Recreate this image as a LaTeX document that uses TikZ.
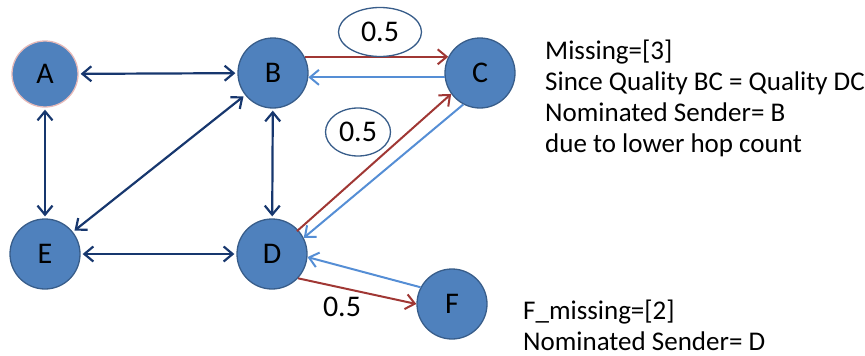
\documentclass[tikz,border=0pt]{standalone}
\usepackage{fontspec}
\setmainfont{Carlito}
\usetikzlibrary{arrows.meta,shapes.geometric}
\definecolor{nodefill}{HTML}{4F81BD}
\definecolor{nodeborder}{HTML}{385D8A}
\definecolor{pinkborder}{HTML}{E6B9B8}
\definecolor{navy}{RGB}{23,55,110}
\definecolor{redline}{RGB}{160,55,52}
\definecolor{lightline}{HTML}{558ED5}
\tikzset{
  vertex/.style={circle, fill=nodefill, draw=nodeborder, line width=1.3pt, minimum size=70pt, inner sep=0pt, font=\fontsize{30}{32}\selectfont, text=black},
  navyarrow/.style={navy, line width=2.2pt, {Straight Barb[length=9pt,width=15pt]}-{Straight Barb[length=9pt,width=15pt]}, shorten <=2pt, shorten >=2pt},
  redarrow/.style={redline, line width=2pt, -{Straight Barb[length=9pt,width=15pt]}},
  bluearrow/.style={lightline, line width=2pt, -{Straight Barb[length=9pt,width=15pt]}},
  weightlabel/.style={ellipse, draw=nodeborder, fill=white, line width=1.3pt, inner sep=0pt, font=\fontsize{30}{32}\selectfont},
  plainlabel/.style={inner sep=0pt, font=\fontsize{30}{32}\selectfont},
  note/.style={inner sep=0pt, align=left, anchor=base west, font=\fontsize{27}{31}\selectfont}
}
\begin{document}
\begin{tikzpicture}[x=1pt,y=-1pt]
\useasboundingbox (0,0) rectangle (865,356);
% nodes
\node[vertex, draw=pinkborder, minimum size=66pt] (A) at (45,74) {A};
\node[vertex] (B) at (273,73) {B};
\node[vertex] (C) at (480,73) {C};
\node[vertex] (E) at (45,254) {E};
\node[vertex] (D) at (272,254) {D};
\node[vertex] (F) at (452,304) {F};
% navy bidirectional links
\draw[navyarrow] (A) -- (B);
\draw[navyarrow] (A) -- (E);
\draw[navyarrow] (E) -- (B);
\draw[navyarrow] (B) -- (D);
\draw[navyarrow] (E) -- (D);
% red and blue links
\draw[redarrow] (B.27) -- (C.153);
\draw[bluearrow] (C.187) -- (B.-7);
\draw[redarrow] ([shift={(4pt,-6pt)}]D.54) -- (C.216);
\draw[bluearrow] (C.242) -- (D.27);
\draw[bluearrow] (F.152) -- (D.-5);
\draw[redarrow] (D.-43) -- (F.180);
% weight labels
\node[weightlabel, minimum width=83pt, minimum height=49pt] (w1) at (380,32) {0.5};
\node[weightlabel, minimum width=65pt, minimum height=48pt] (w2) at (358,132) {0.5};
\node[plainlabel] (w3) at (342,307) {0.5};
% notes (base anchor is the last line)
\node[note] (n1) at (545,152) {Missing=[3]\\Since Quality BC = Quality DC\\Nominated Sender= B\\due to lower hop count};
\node[note] (n2) at (523,350) {F\_missing=[2]\\Nominated Sender= D};
\end{tikzpicture}
\end{document}
